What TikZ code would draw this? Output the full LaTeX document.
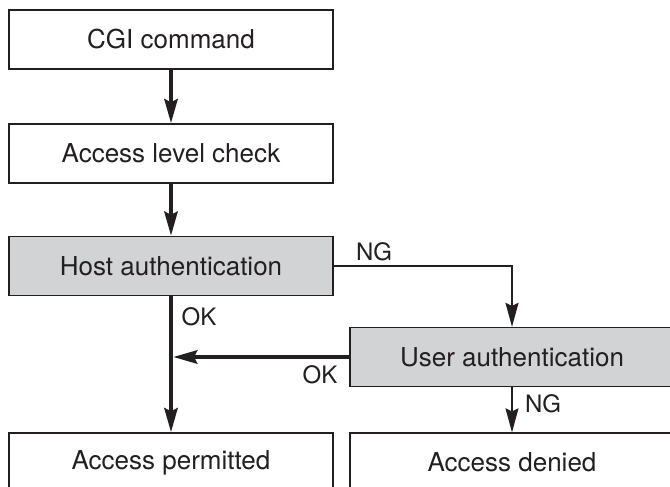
\documentclass[tikz,border=0pt]{standalone}
\usepackage{fontspec}
\setmainfont{TeX Gyre Heros}
\usetikzlibrary{arrows.meta,calc}
\definecolor{inkdark}{RGB}{35,31,32}
\definecolor{boxgray}{RGB}{210,211,213}

\begin{document}
\begin{tikzpicture}[x=1pt, y=-1pt, >={Stealth[length=24pt,width=13pt,inset=3pt]},
    box/.style={draw=inkdark, line width=1.3pt, fill=white, minimum width=324pt,
      minimum height=59pt, inner sep=0pt, text=inkdark, font=\fontsize{26}{30}\selectfont},
    grbox/.style={box, fill=boxgray},
    mainflow/.style={->, draw=inkdark, line width=4.5pt},
    sideflow/.style={->, draw=inkdark, line width=1.5pt},
    lbl/.style={text=inkdark, inner sep=0pt, font=\fontsize{24}{28}\selectfont}]
    \useasboundingbox (0,0) rectangle (670,487);
    \node[box] (cgi) at (171,39.5) {CGI command};
    \node[box] (level) at (171,153.5) {Access level check};
    \node[grbox] (host) at (171,266) {Host authentication};
    \node[grbox] (user) at (512,357) {User authentication};
    \node[box] (perm) at (171,462.5) {Access permitted};
    \node[box] (denied) at (512,462.5) {Access denied};
    \draw[mainflow] (cgi) -- (level);
    \draw[mainflow] (level) -- (host);
    \draw[mainflow] (host) -- (perm);
    \draw[mainflow, shorten >=2pt] (user.west) -- (user.west -| host.south);
    \draw[sideflow] (host.east) -| (user.north);
    \draw[sideflow] (user) -- (denied);
    \node[lbl] (nghost) at (374,252) {NG};
    \node[lbl] (okhost) at (199,317) {OK};
    \node[lbl] (okuser) at (320,375) {OK};
    \node[lbl] (nguser) at (543,404) {NG};
\end{tikzpicture}
\end{document}
